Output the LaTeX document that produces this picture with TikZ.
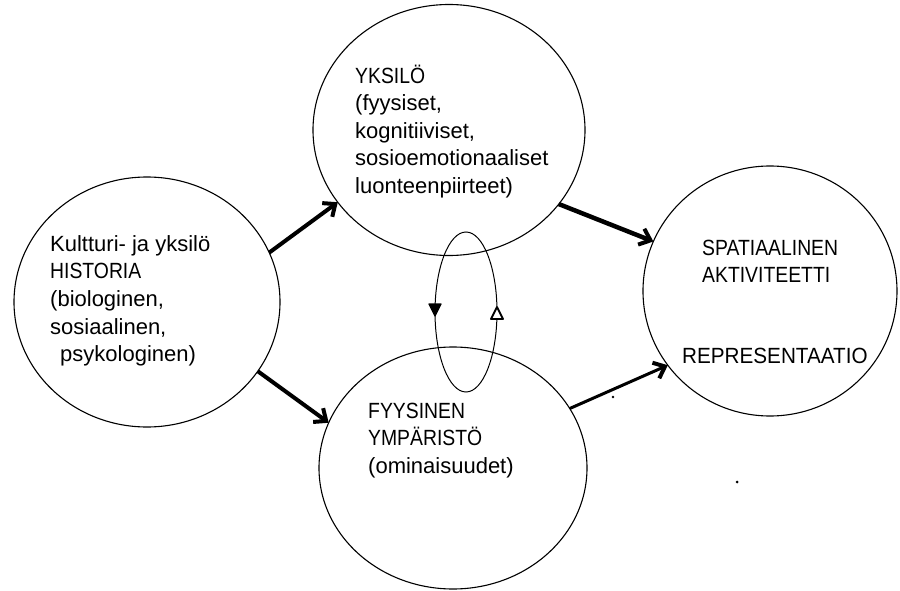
\documentclass[tikz,border=0pt]{standalone}
\usepackage{fontspec}
\setmainfont{Liberation Sans}
\newfontfamily\capfont[FakeStretch=0.88]{Liberation Sans}
\newfontfamily\capwfont[FakeStretch=0.94]{Liberation Sans}
\usetikzlibrary{shapes.geometric,arrows.meta,calc}
\newcommand\lblstrut{\rule{0pt}{20pt}}
\begin{document}
\begin{tikzpicture}[x=1pt,y=-1pt,
 blob/.style={draw,ellipse,line width=1.1pt,inner sep=0pt,outer sep=0pt},
 lbl/.style={anchor=north west,inner sep=0pt,align=left,font=\fontsize{22}{27.6}\selectfont},
 flow/.style={line width=4pt,-{Straight Barb[length=10pt,width=17pt,line width=4pt]}},
]
\useasboundingbox[fill=white] (0,0) rectangle (900,591);
\node[blob,minimum width=266pt,minimum height=250pt] (hist) at (147,302) {};
\node[blob,minimum width=272pt,minimum height=251pt] (yks) at (449,130) {};
\node[blob,minimum width=268pt,minimum height=242pt] (fyy) at (453,468) {};
\node[blob,minimum width=254pt,minimum height=250pt] (spa) at (770,291) {};
\node[blob,line width=1pt,minimum width=62pt,minimum height=160pt] (loop) at (466,312) {};

\node[lbl] (histtxt) at (50,231) {\lblstrut Kultturi- ja yksilö\\{\capfont HISTORIA}\\(biologinen,\\sosiaalinen,\\\hspace*{10pt}psykologinen)};
\node[lbl] (ykstxt) at (355,63) {\lblstrut{\capfont YKSILÖ}\\(fyysiset,\\kognitiiviset,\\sosioemotionaaliset\\luonteenpiirteet)};
\node[lbl] (fyytxt) at (368,398) {\lblstrut{\capfont FYYSINEN}\\{\capfont YMPÄRISTÖ}\\(ominaisuudet)};
\node[lbl] (spatxt) at (702,235) {\lblstrut{\capfont SPATIAALINEN}\\{\capfont AKTIVITEETTI}};
\node[lbl] (reptxt) at (682,343) {\lblstrut{\capwfont REPRESENTAATIO}};

\draw[flow] (hist.22) -- (yks.213);
\draw[flow] (hist.-32) -- (fyy.160);
\draw[flow,line width=4.5pt] (yks.-34) -- (spa.157);
\draw[flow,line width=3pt] (fyy.27) -- (spa.216);

\filldraw[line width=1.2pt,line join=round] ($(loop.west)+(-6,-8)$) -- ++(12,0) -- ++(-6,12) -- cycle;
\draw[line width=1.8pt,fill=white,line join=round] ($(loop.east)+(-6,7)$) -- ++(12,0) -- ++(-6,-12) -- cycle;

\fill (613,397) circle (1.3pt);
\fill (737,482) circle (1.5pt);
\end{tikzpicture}
\end{document}
